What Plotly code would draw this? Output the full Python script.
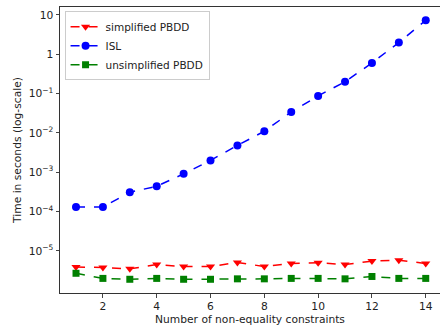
import plotly.graph_objects as go

x_vals = list(range(1, 15))
simplified_pbdd = [3.9e-6, 3.8e-6, 3.5e-6, 4.5e-6, 4.0e-6, 4.0e-6, 5.1e-6, 4.0e-6, 4.8e-6, 5.0e-6, 4.5e-6, 5.5e-6, 5.8e-6, 4.8e-6]
isl = [1.3e-4, 1.3e-4, 3.1e-4, 4.4e-4, 9.1e-4, 2.0e-3, 4.8e-3, 0.011, 0.034, 0.087, 0.20, 0.60, 1.98, 7.3]
unsimplified_pbdd = [2.7e-6, 2.0e-6, 1.9e-6, 2.0e-6, 1.9e-6, 1.9e-6, 1.95e-6, 1.95e-6, 2.0e-6, 2.0e-6, 1.95e-6, 2.24e-6, 2.0e-6, 2.0e-6]

y_tickvals = [1e-5, 1e-4, 1e-3, 1e-2, 1e-1, 1, 10]
y_ticktext = ["10<sup>−5</sup>", "10<sup>−4</sup>", "10<sup>−3</sup>", "10<sup>−2</sup>", "10<sup>−1</sup>", "1", "10"]
x_tickvals = [2, 4, 6, 8, 10, 12, 14]

font = "DejaVu Sans"
fs = 10.7
fig = go.Figure()
fig.add_trace(go.Scatter(x=x_vals, y=simplified_pbdd, name="simplified PBDD", mode="lines+markers",
                         line=dict(color="red", dash="dash", width=1.5),
                         marker=dict(symbol="triangle-down", size=8, color="red")))
fig.add_trace(go.Scatter(x=x_vals, y=isl, name="ISL", mode="lines+markers",
                         line=dict(color="blue", dash="dash", width=1.5),
                         marker=dict(symbol="circle", size=8, color="blue")))
fig.add_trace(go.Scatter(x=x_vals, y=unsimplified_pbdd, name="unsimplified PBDD", mode="lines+markers",
                         line=dict(color="green", dash="dash", width=1.5),
                         marker=dict(symbol="square", size=7, color="green")))

fig.update_layout(
    width=440, height=331,
    margin=dict(l=60, r=0, t=7, b=38, autoexpand=False),
    plot_bgcolor="white", paper_bgcolor="white",
    font=dict(family=font, size=fs, color="#222"),
    legend=dict(x=0.012, y=0.985, xanchor="left", yanchor="top",
                bgcolor="white", bordercolor="#ccc", borderwidth=1,
                font=dict(size=10.5), tracegroupgap=0, itemwidth=30),
    showlegend=True,
)
fig.update_xaxes(range=[0.405, 14.53], tickvals=x_tickvals, ticks="outside", ticklen=3.5,
                 automargin=False,
                 showgrid=False, zeroline=False, showline=True, linecolor="#333", linewidth=1, mirror=True,
                 title=dict(text="Number of non-equality constraints", font=dict(size=fs), standoff=2))
fig.update_yaxes(type="log", range=[-6.07, 1.2], tickvals=y_tickvals, ticktext=y_ticktext,
                 ticks="outside", ticklen=3.5, showgrid=False, zeroline=False, automargin=False,
                 showline=True, linecolor="#333", linewidth=1, mirror=True,
                 title=dict(text="Time in seconds (log-scale)", font=dict(size=fs), standoff=4))

fig.write_html("out.html", config={"displayModeBar": False},
               post_script="document.body.style.margin='0';document.body.style.padding='0';")
